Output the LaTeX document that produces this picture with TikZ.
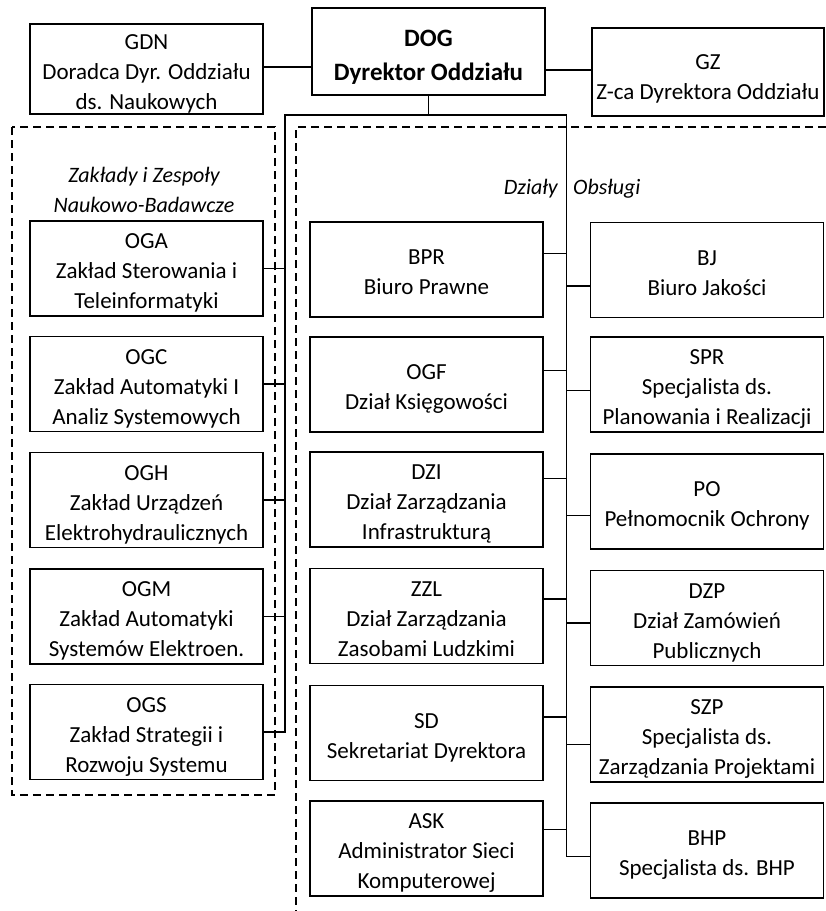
\documentclass[tikz,border=0pt]{standalone}
\usepackage{fontspec}
\setmainfont{Carlito}
\newcommand\myTopStrut[1][25pt]{\rule{0pt}{#1}}
\newcommand\myBotStrut{\rule[-5pt]{0pt}{5pt}}
\newcommand\bx[2][25pt]{\myTopStrut[#1]#2\myBotStrut}
\begin{document}
\begin{tikzpicture}[x=1pt,y=-1pt,
  orgbox/.style={draw, line width=1.6pt, minimum width=233pt, minimum height=95pt,
    align=center, inner sep=0pt, font=\fontsize{23}{30}\selectfont},
  conn/.style={line width=1.3pt},
  group/.style={line width=1.6pt, dash pattern=on 8pt off 5pt},
  grouplabel/.style={font=\fontsize{22}{30}\selectfont\itshape, align=center, inner sep=0pt}
]
\useasboundingbox (0,0) rectangle (826,911);

% top row
\node[orgbox, minimum height=88pt] (GDN) at (146.5,69) {\bx{GDN\\Doradca Dyr. Oddziału\\ds. Naukowych}};
\node[orgbox, minimum height=87pt, font=\fontsize{25}{34}\selectfont\bfseries] (DOG) at (428.5,51.5) {\bx[28pt]{DOG\\Dyrektor Oddziału}};
\node[orgbox, minimum height=88pt, minimum width=232pt] (GZ) at (708,72) {\bx[29pt]{GZ\\Z-ca Dyrektora Oddziału}};

% dashed groups
\draw[group] (12,127) rectangle (275,795);
\draw[group] (826,127) -- (296,127) -- (296,911);
\node[grouplabel] (zlab) at (144,190) {Zakłady i Zespoły\\Naukowo-Badawcze};
\node[grouplabel, anchor=east] (dlab1) at (558,189) {Działy};
\node[grouplabel, anchor=west] (dlab2) at (573,189) {Obsługi};

% left column
\node[orgbox] (OGA) at (146.5,268.5) {\bx{OGA\\Zakład Sterowania i\\Teleinformatyki}};
\node[orgbox] (OGC) at (146.5,384) {\bx{OGC\\Zakład Automatyki I\\Analiz Systemowych}};
\node[orgbox] (OGH) at (146.5,500) {\bx{OGH\\Zakład Urządzeń\\Elektrohydraulicznych}};
\node[orgbox] (OGM) at (146.5,616.5) {\bx{OGM\\Zakład Automatyki\\Systemów Elektroen.}};
\node[orgbox] (OGS) at (146.5,732) {\bx{OGS\\Zakład Strategii i\\Rozwoju Systemu}};

% middle column
\node[orgbox] (BPR) at (426.5,269.5) {\bx{BPR\\Biuro Prawne}};
\node[orgbox] (OGF) at (426.5,384.5) {\bx{OGF\\Dział Księgowości}};
\node[orgbox] (DZI) at (426.5,499.5) {\bx{DZI\\Dział Zarządzania\\Infrastrukturą}};
\node[orgbox] (ZZL) at (426.5,616) {\bx{ZZL\\Dział Zarządzania\\Zasobami Ludzkimi}};
\node[orgbox] (SD) at (426.5,733) {\bx{SD\\Sekretariat Dyrektora}};
\node[orgbox] (ASK) at (426.5,848.5) {\bx{ASK\\Administrator Sieci\\Komputerowej}};

% right column
\node[orgbox] (BJ) at (707,270) {\bx{BJ\\Biuro Jakości}};
\node[orgbox] (SPR) at (707,384.5) {\bx{SPR\\Specjalista ds.\\Planowania i Realizacji}};
\node[orgbox] (PO) at (707,501.5) {\bx{PO\\Pełnomocnik Ochrony}};
\node[orgbox] (DZP) at (707,618) {\bx{DZP\\Dział Zamówień\\Publicznych}};
\node[orgbox] (SZP) at (707,734.5) {\bx{SZP\\Specjalista ds.\\Zarządzania Projektami}};
\node[orgbox] (BHP) at (707,850.5) {\bx{BHP\\Specjalista ds. BHP}};

% trunk coordinates
\coordinate (LT) at (285,115);
\coordinate (RT) at (566.5,115);

% top connections
\path ([yshift=2pt]GDN.east) coordinate (cGDN);
\draw[conn] (cGDN) -- (cGDN -| DOG.west);
\path ([yshift=2pt]GZ.west) coordinate (cGZ);
\draw[conn] (cGZ) -- (cGZ -| DOG.east);
\draw[conn] (DOG.south) -- (DOG.south |- LT);
\draw[conn] (OGS.east) -| (LT) -- (RT);

% left connectors
\foreach \n in {OGA,OGC,OGH,OGM}
  \draw[conn] (\n.east) -- (\n.east -| LT);

% middle connectors (slightly above centre)
\foreach \n/\d in {BPR/16,OGF/14,DZI/21,ZZL/17,SD/16,ASK/19}{
  \path ([yshift=\d pt]\n.east) coordinate (c\n);
  \draw[conn] (c\n) -- (c\n -| RT);
}
% right connectors (slightly below centre)
\foreach \n/\d in {BJ/16,SPR/6,PO/14,DZP/5,SZP/10}{
  \path ([yshift=-\d pt]\n.west) coordinate (c\n);
  \draw[conn] (c\n) -- (c\n -| RT);
}
\path ([yshift=-6pt]BHP.west) coordinate (cBHP);
\draw[conn] (RT) |- (cBHP);
\end{tikzpicture}
\end{document}
